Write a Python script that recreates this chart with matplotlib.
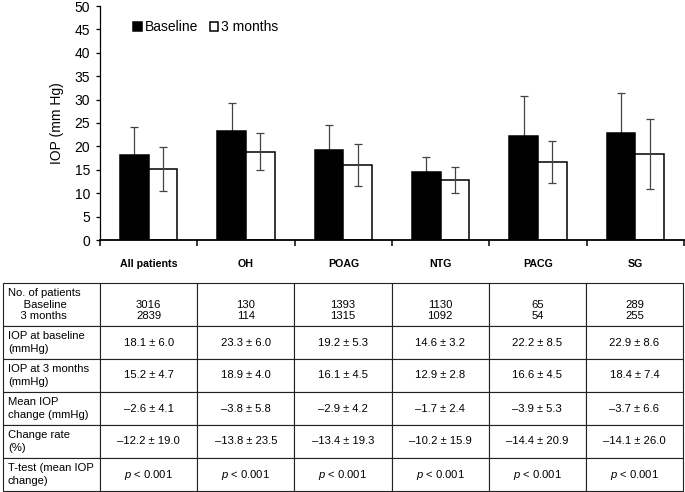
import matplotlib
matplotlib.use('Agg')
import matplotlib.pyplot as plt
import numpy as np

# ---------------- data ----------------
categories = ['All patients', 'OH', 'POAG', 'NTG', 'PACG', 'SG']
baseline_mean = [18.1, 23.3, 19.2, 14.6, 22.2, 22.9]
baseline_sd = [6.0, 6.0, 5.3, 3.2, 8.5, 8.6]
m3_mean = [15.2, 18.9, 16.1, 12.9, 16.6, 18.4]
m3_sd = [4.7, 4.0, 4.5, 2.8, 4.5, 7.4]
n_baseline = [3016, 130, 1393, 1130, 65, 289]
n_3m = [2839, 114, 1315, 1092, 54, 255]
mean_change = [-2.6, -3.8, -2.9, -1.7, -3.9, -3.7]
mean_change_sd = [4.1, 5.8, 4.2, 2.4, 5.3, 6.6]
change_rate = [-12.2, -13.8, -13.4, -10.2, -14.4, -14.1]
change_rate_sd = [19.0, 23.5, 19.3, 15.9, 20.9, 26.0]
p_text = ['< 0.001'] * 6
row_labels = ['No. of patients\n     Baseline\n    3 months',
              'IOP at baseline\n(mmHg)',
              'IOP at 3 months\n(mmHg)',
              'Mean IOP\nchange (mmHg)',
              'Change rate\n(%)',
              'T-test (mean IOP\nchange)']
y_ticks = list(range(0, 51, 5))
legend_labels = ['Baseline', '3 months']
y_label = 'IOP (mm Hg)'

plt.rcParams['font.family'] = ['Liberation Sans', 'DejaVu Sans']
plt.rcParams['mathtext.fontset'] = 'custom'
plt.rcParams['mathtext.it'] = 'Liberation Sans:italic'
plt.rcParams['mathtext.rm'] = 'Liberation Sans'

W, H = 685, 492
fig = plt.figure(figsize=(W / 100, H / 100), dpi=100)

# ---------------- bar chart ----------------
ax = fig.add_axes([100 / W, 1 - 240 / H, 584 / W, 234 / H])
x = np.arange(len(categories))
bw = 0.293
ax.bar(x - bw / 2, baseline_mean, bw, color='black', edgecolor='black',
       linewidth=1.1, label=legend_labels[0], zorder=2)
ax.bar(x + bw / 2, m3_mean, bw, color='white', edgecolor='black',
       linewidth=1.1, label=legend_labels[1], zorder=2)
ax.errorbar(x - bw / 2, baseline_mean, yerr=baseline_sd, fmt='none',
            ecolor='#444444', elinewidth=0.9, capsize=2.8, capthick=0.9, zorder=1)
ax.errorbar(x + bw / 2, m3_mean, yerr=m3_sd, fmt='none',
            ecolor='#444444', elinewidth=0.9, capsize=2.8, capthick=0.9, zorder=3)

ax.set_xlim(-0.5, len(categories) - 0.5)
ax.set_ylim(0, 50)
ax.set_yticks(y_ticks)
ax.tick_params(axis='y', labelsize=10, length=3, width=0.9, pad=4, direction='out')
ax.set_ylabel(y_label, fontsize=10, labelpad=8)

ax.set_xticks(np.arange(-0.5, len(categories), 1))
ax.set_xticklabels([])
ax.tick_params(axis='x', which='major', length=4.5, width=1.1, direction='out')
ax.set_xticks(x, minor=True)
ax.set_xticklabels(categories, minor=True, fontweight='bold', fontsize=7.7)
ax.tick_params(axis='x', which='minor', length=0, pad=14)

for s in ['top', 'right']:
    ax.spines[s].set_visible(False)
ax.spines['left'].set_linewidth(0.9)
ax.spines['bottom'].set_linewidth(1.3)

ax.legend(loc='upper left', bbox_to_anchor=(0.057, 0.94), ncol=2, frameon=False,
          fontsize=10, handlelength=0.6, handleheight=0.6, handletextpad=0.25,
          columnspacing=0.8, borderpad=0, borderaxespad=0)

# ---------------- table ----------------
def fmt(m, s):
    return f"{m:.1f} \u00b1 {s:.1f}".replace('-', '\u2013')

rows = [
    [' \n' + f"{a}\n{b}" for a, b in zip(n_baseline, n_3m)],
    [fmt(m, s) for m, s in zip(baseline_mean, baseline_sd)],
    [fmt(m, s) for m, s in zip(m3_mean, m3_sd)],
    [fmt(m, s) for m, s in zip(mean_change, mean_change_sd)],
    [fmt(m, s) for m, s in zip(change_rate, change_rate_sd)],
    ['$\\mathit{p}$' + ' ' + t for t in p_text],
]
cell_text = [[lab] + r for lab, r in zip(row_labels, rows)]

tax = fig.add_axes([3 / W, 1 / H, 680 / W, 208 / H])
tax.axis('off')
tbl = tax.table(cellText=cell_text, cellLoc='center', bbox=[0, 0, 1, 1])
tbl.auto_set_font_size(False)
tbl.set_fontsize(8.1)
row_h = [43, 33, 33, 33, 33, 33]
for (r, c), cell in tbl.get_celld().items():
    cell.set_height(row_h[r])
    cell.set_width(97)
    cell.set_linewidth(0.8)
    cell.set_edgecolor('#222222')
    cell.get_text().set_linespacing(1.2 if r == 0 else 1.35)
    if c == 0:
        cell.get_text().set_horizontalalignment('left')
        cell._loc = 'left'
        cell.PAD = 0.05

fig.savefig('out.png', dpi=100)
